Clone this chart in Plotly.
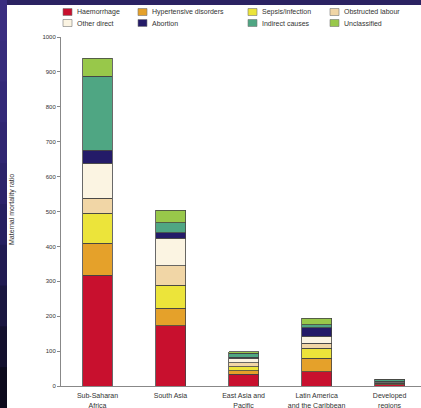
import plotly.graph_objects as go

# Regions on the x axis
regions = [
    "Sub-Saharan<br>Africa",
    "South Asia",
    "East Asia and<br>Pacific",
    "Latin America<br>and the Caribbean",
    "Developed<br>regions",
]

# Cause-specific maternal mortality ratio, stacked bottom to top
haemorrhage = [318, 172, 33, 41, 3]
hypertensive = [91, 51, 10, 38, 3]
sepsis = [86, 66, 12, 29, 2]
obstructed = [43, 55, 12, 14, 1]
other_direct = [100, 79, 12, 21, 3]
abortion = [38, 16, 3, 24, 2]
indirect = [211, 29, 12, 8, 4]
unclassified = [52, 36, 4, 19, 2]

series_names = [
    "Haemorrhage", "Hypertensive disorders", "Sepsis/infection", "Obstructed labour",
    "Other direct", "Abortion", "Indirect causes", "Unclassified",
]
series_values = [haemorrhage, hypertensive, sepsis, obstructed,
                 other_direct, abortion, indirect, unclassified]
series_colors = ["#C8102E", "#E5A12A", "#ECE43A", "#F1D6A6",
                 "#FBF4E2", "#241B68", "#4FA683", "#98C84A"]

y_ticks = [0, 100, 200, 300, 400, 500, 600, 700, 800, 900, 1000]

W, H = 421, 408
L, R, T, B = 61, 0, 37, 22
FONT = "Liberation Sans, Arial, sans-serif"


def px(x):
    return (x - L) / (W - L - R)


def py(y):
    return (H - B - y) / (H - T - B)


fig = go.Figure()
for name, vals, col in zip(series_names, series_values, series_colors):
    fig.add_trace(go.Bar(
        x=regions, y=vals, name=name,
        marker=dict(color=col, line=dict(color="#444444", width=0.8)),
        showlegend=False,
    ))

shapes = []
annotations = []

# Dark slide border along the top and left edges
shapes.append(dict(type="rect", xref="paper", yref="paper",
                   x0=px(0), x1=px(W), y0=py(5), y1=py(0),
                   fillcolor="#2B2262", line=dict(width=0), layer="above"))
left_band = ["#3A2E80", "#372C7C", "#332978", "#302672", "#2C236A",
             "#272060", "#211B52", "#1A1640", "#13102E", "#0C0A1C"]
step = H / len(left_band)
for i, c in enumerate(left_band):
    shapes.append(dict(type="rect", xref="paper", yref="paper",
                       x0=px(0), x1=px(7), y0=py(min(H, (i + 1) * step + 1)), y1=py(i * step),
                       fillcolor=c, line=dict(width=0), layer="above"))

# Legend block: two rows of four entries
col_x = [63, 138, 248, 330]
row_y = [12, 23]
for k, (name, col) in enumerate(zip(series_names, series_colors)):
    r, c = divmod(k, 4)
    x0, yc = col_x[c], row_y[r]
    shapes.append(dict(type="rect", xref="paper", yref="paper",
                       x0=px(x0), x1=px(x0 + 9), y0=py(yc + 3.5), y1=py(yc - 3.5),
                       fillcolor=col, line=dict(color="#777777", width=0.6)))
    annotations.append(dict(xref="paper", yref="paper", x=px(x0 + 12), y=py(yc),
                            text=name, showarrow=False, xanchor="left", yanchor="middle",
                            font=dict(size=7, color="#333333", family=FONT)))

# Vertical axis title
annotations.append(dict(xref="paper", yref="paper", x=px(12), y=py(210),
                        text="Maternal mortality ratio", textangle=-90, showarrow=False,
                        xanchor="center", yanchor="middle",
                        font=dict(size=7, color="#333333", family=FONT)))

fig.update_layout(
    width=W, height=H,
    margin=dict(l=L, r=R, t=T, b=B, pad=0),
    paper_bgcolor="white", plot_bgcolor="white",
    barmode="stack", bargap=0.59,
    font=dict(family=FONT, size=7, color="#333333"),
    shapes=shapes, annotations=annotations,
    xaxis=dict(range=[-0.5, 4.43], showline=True, linecolor="#888888", linewidth=1,
               ticks="", ticklabelstandoff=3, automargin=False,
               tickfont=dict(size=7, color="#333333"), showgrid=False, fixedrange=True),
    yaxis=dict(range=[0, 1000], tickvals=y_ticks, showline=True, linecolor="#888888",
               linewidth=1, ticks="outside", ticklen=3, tickcolor="#888888",
               automargin=False, tickfont=dict(size=6, color="#333333"), showgrid=False,
               zeroline=False, fixedrange=True),
)

fig.write_html("out.html")
